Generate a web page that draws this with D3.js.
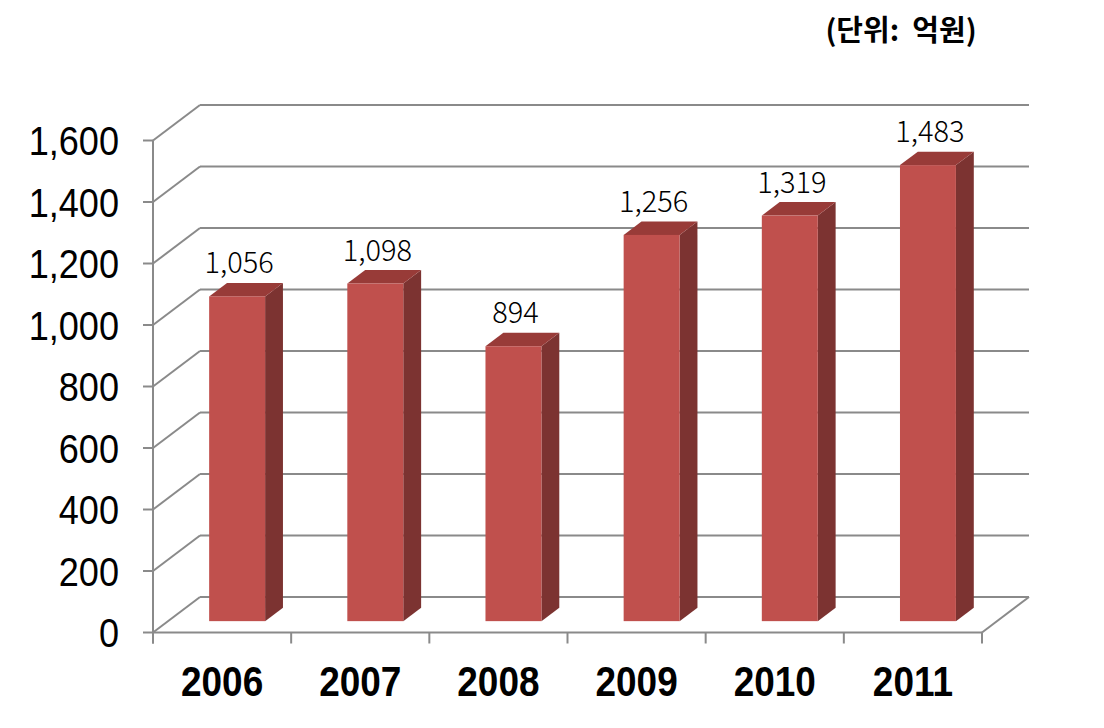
<!DOCTYPE html>
<html><head><meta charset="utf-8">
<script src="https://cdn.jsdelivr.net/npm/d3@7"></script>
<style>body{margin:0;background:#fff}svg{display:block}</style>
</head><body>
<script>
const categories = ["2006","2007","2008","2009","2010","2011"];
const values = [1056,1098,894,1256,1319,1483];
const valueLabels = ["1,056","1,098","894","1,256","1,319","1,483"];
const yTicks = [0,200,400,600,800,1000,1200,1400,1600];
const unitLabel = "(단위:  억원)";

const W=1104,H=728;
const svg=d3.select("body").append("svg").attr("width",W).attr("height",H);
const x0=153, x1=982, yBase=632.5, yTop=140.5;
const DX=47, DY=-35.5;
const gray="#8a8a8a";
const y=d3.scaleLinear().domain([0,1600]).range([yBase,yTop]);
const xb=d3.scaleBand().domain(categories).range([x0,x1]).paddingInner(0.595).paddingOuter(0.2975);
const xs=d3.scaleBand().domain(categories).range([x0,x1]);
const P=(px,py,t)=>[px+t*DX,py+t*DY];

const g=svg.append("g");
yTicks.forEach(v=>{
  g.append("line").attr("x1",x0+DX).attr("x2",x1+DX).attr("y1",y(v)+DY).attr("y2",y(v)+DY)
   .attr("stroke",gray).attr("stroke-width",2);
  g.append("line").attr("x1",x0).attr("x2",x0+DX).attr("y1",y(v)).attr("y2",y(v)+DY)
   .attr("stroke",gray).attr("stroke-width",2);
  g.append("line").attr("x1",x0-10).attr("x2",x0).attr("y1",y(v)).attr("y2",y(v))
   .attr("stroke",gray).attr("stroke-width",2);
});
g.append("line").attr("x1",x0).attr("x2",x1).attr("y1",yBase).attr("y2",yBase).attr("stroke",gray).attr("stroke-width",2);
g.append("line").attr("x1",x1).attr("x2",x1+DX).attr("y1",yBase).attr("y2",yBase+DY).attr("stroke",gray).attr("stroke-width",2);
g.append("line").attr("x1",x0).attr("x2",x0).attr("y1",yTop).attr("y2",yBase+11).attr("stroke",gray).attr("stroke-width",2);
d3.range(categories.length+1).forEach(i=>{
  const xx=x0+i*xs.step();
  g.append("line").attr("x1",xx).attr("x2",xx).attr("y1",yBase).attr("y2",yBase+11).attr("stroke",gray).attr("stroke-width",2);
});

const t1=0.32,t2=0.70;
const bars=svg.append("g");
categories.forEach((c,i)=>{
  const v=values[i];
  const bx=xb(c), bw=xb.bandwidth();
  const [fx,fyB]=P(bx,y(0),t1);
  const [,fyT]=P(bx,y(v),t1);
  const d=t2-t1, ddx=d*DX, ddy=d*DY;
  bars.append("path").attr("d",`M${fx+bw},${fyB}L${fx+bw+ddx},${fyB+ddy}L${fx+bw+ddx},${fyT+ddy}L${fx+bw},${fyT}Z`).attr("fill","#7c3331");
  bars.append("path").attr("d",`M${fx},${fyT}L${fx+ddx},${fyT+ddy}L${fx+bw+ddx},${fyT+ddy}L${fx+bw},${fyT}Z`).attr("fill","#983b38");
  bars.append("rect").attr("x",fx).attr("y",fyT).attr("width",bw).attr("height",fyB-fyT).attr("fill","#c0504d");
  bars.append("text").attr("x",fx+bw/2+2).attr("y",fyT-23).attr("text-anchor","middle")
    .attr("font-family","'Noto Sans CJK KR','Noto Sans',sans-serif").attr("font-weight",300).attr("font-size",29)
    .attr("fill","#000").text(valueLabels[i]);
});

yTicks.forEach(v=>{
  svg.append("text").attr("transform",`translate(119,${y(v)}) scale(0.88,1)`).attr("dy","0.36em").attr("text-anchor","end")
    .attr("font-family","'Liberation Sans',sans-serif").attr("font-size",41)
    .attr("fill","#000").text(d3.format(",")(v));
});
categories.forEach(c=>{
  svg.append("text").attr("transform",`translate(${xs(c)+xs.bandwidth()/2},696) scale(0.86,1)`).attr("text-anchor","middle")
    .attr("font-family","'Liberation Sans',sans-serif").attr("font-weight","bold").attr("font-size",43)
    .attr("fill","#000").text(c);
});
svg.append("text").attr("x",901).attr("y",41).attr("text-anchor","middle").style("white-space","pre")
  .attr("font-family","'Noto Sans CJK KR',sans-serif").attr("font-weight","bold").attr("font-size",29)
  .attr("fill","#000").text(unitLabel);
</script>
</body></html>
